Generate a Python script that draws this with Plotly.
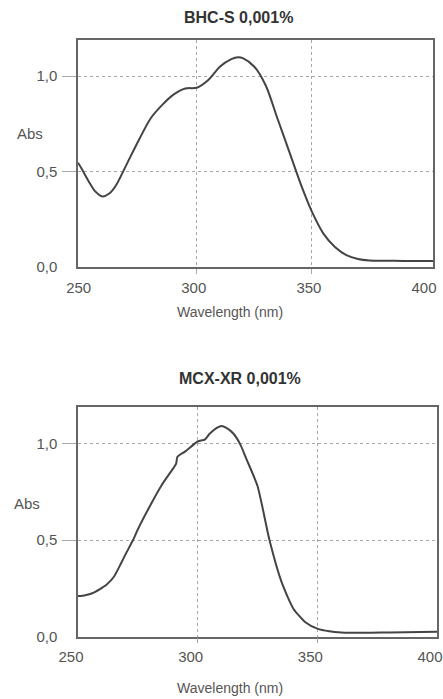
import plotly.graph_objects as go

# --- Data ---
bhc_wl = [248.4, 250, 253, 256, 259, 262, 265, 270, 275, 280, 285, 290, 295, 300, 305, 310, 315, 318, 320,
          325, 330, 335, 340, 345, 350, 355, 360, 365, 370, 375, 380, 390, 402.6]
bhc_abs = [0.547, 0.515, 0.45, 0.395, 0.37, 0.385, 0.43, 0.55, 0.67, 0.78, 0.85, 0.905, 0.936, 0.94, 0.98, 1.05, 1.09, 1.10, 1.095,
           1.05, 0.95, 0.78, 0.61, 0.44, 0.29, 0.175, 0.105, 0.062, 0.042, 0.034, 0.033, 0.032, 0.032]

mcx_wl = [250, 253, 256, 259, 262, 265, 268, 270, 273, 275, 280, 285, 290, 291, 291.5, 293, 295, 300, 303, 305, 308, 310,
          312, 315, 318, 320, 325, 330, 335, 340, 345, 350, 355, 360, 370, 380, 400]
mcx_abs = [0.21, 0.215, 0.225, 0.245, 0.27, 0.31, 0.38, 0.43, 0.50, 0.555, 0.675, 0.785, 0.875, 0.895, 0.93, 0.945, 0.96, 1.01, 1.02, 1.05, 1.08, 1.09,
           1.08, 1.05, 0.99, 0.93, 0.78, 0.50, 0.285, 0.145, 0.075, 0.042, 0.028, 0.022, 0.02, 0.022, 0.025]

x_ticks = [250, 300, 350, 400]
x_ticktext = ["250", "300", "350", "400"]
y_ticks = [0.0, 0.5, 1.0]
y_ticktext = ["0,0", "0,5", "1,0"]
titles = ["BHC-S 0,001%", "MCX-XR 0,001%"]
x_title = "Wavelength (nm)"
y_title = "Abs"

W, H = 443, 699
FONT = "Liberation Sans, Arial, sans-serif"
LINE = "#444444"
BOX = "#666666"
GRID = "#a8a8a8"
TXT = "#555555"


def fx(px):
    return px / W


def fy(py):
    return (H - py) / H


fig = go.Figure()
fig.add_trace(go.Scatter(x=bhc_wl, y=bhc_abs, mode="lines", line=dict(color=LINE, width=2, shape="spline", smoothing=0.8),
                         xaxis="x", yaxis="y", showlegend=False, hoverinfo="skip"))
fig.add_trace(go.Scatter(x=mcx_wl, y=mcx_abs, mode="lines", line=dict(color=LINE, width=2, shape="spline", smoothing=0.6),
                         xaxis="x2", yaxis="y2", showlegend=False, hoverinfo="skip"))


def xax(domain, rng, anchor, shift):
    return dict(domain=domain, range=rng, anchor=anchor, showgrid=False, zeroline=False, automargin=False,
                tickmode="array", tickvals=x_ticks, ticktext=x_ticktext, ticks="",
                ticklabelstandoff=6, ticklabelshift=shift, tickfont=dict(family=FONT, size=15, color=TXT),
                showline=True, mirror=True, linecolor=BOX, linewidth=1.5,
                minor=dict(tickmode="array", tickvals=[300, 350], showgrid=True, griddash="dot",
                           gridcolor=GRID, gridwidth=1, ticks="outside", ticklen=5, tickcolor=GRID))


def yax(domain, anchor):
    return dict(domain=domain, range=[0, 1.19], anchor=anchor, showgrid=False, zeroline=False, automargin=False,
                tickmode="array", tickvals=y_ticks, ticktext=y_ticktext, ticks="",
                ticklabelstandoff=16, tickfont=dict(family=FONT, size=15, color=TXT),
                showline=True, mirror=True, linecolor=BOX, linewidth=1.5,
                minor=dict(tickmode="array", tickvals=[0.5, 1.0], showgrid=True, griddash="dot",
                           gridcolor=GRID, gridwidth=1, ticks="outside", ticklen=14, tickcolor=GRID))


fig.update_layout(
    width=W, height=H,
    margin=dict(l=0, r=0, t=0, b=0),
    paper_bgcolor="white", plot_bgcolor="white",
    xaxis=xax([fx(78), fx(433)], [248.4, 402.6], "y", -3),
    yaxis=yax([fy(267), fy(40)], "x"),
    xaxis2=xax([fx(78), fx(437)], [250, 400], "y2", -7),
    yaxis2=yax([fy(636.7), fy(406.7)], "x2"),
)

ann = []
ann.append(dict(text="<b>" + titles[0] + "</b>", x=fx(238), y=fy(17)))
ann.append(dict(text="<b>" + titles[1] + "</b>", x=fx(240), y=fy(378)))
ann.append(dict(text=y_title, x=fx(30), y=fy(133)))
ann.append(dict(text=y_title, x=fx(27), y=fy(503)))
for a in ann[:2]:
    a["font"] = dict(family=FONT, size=16, color="#333333")
for a in ann[2:]:
    a["font"] = dict(family=FONT, size=15, color=TXT)
ann.append(dict(text=x_title, x=fx(230), y=fy(312), font=dict(family=FONT, size=14, color=TXT)))
ann.append(dict(text=x_title, x=fx(230), y=fy(688), font=dict(family=FONT, size=14, color=TXT)))
for a in ann:
    a.update(xref="paper", yref="paper", showarrow=False, xanchor="center", yanchor="middle")
fig.update_layout(annotations=ann)

fig.write_html("out.html", config={"displayModeBar": False},
               post_script="document.body.style.margin='0';document.body.style.overflow='hidden';")
